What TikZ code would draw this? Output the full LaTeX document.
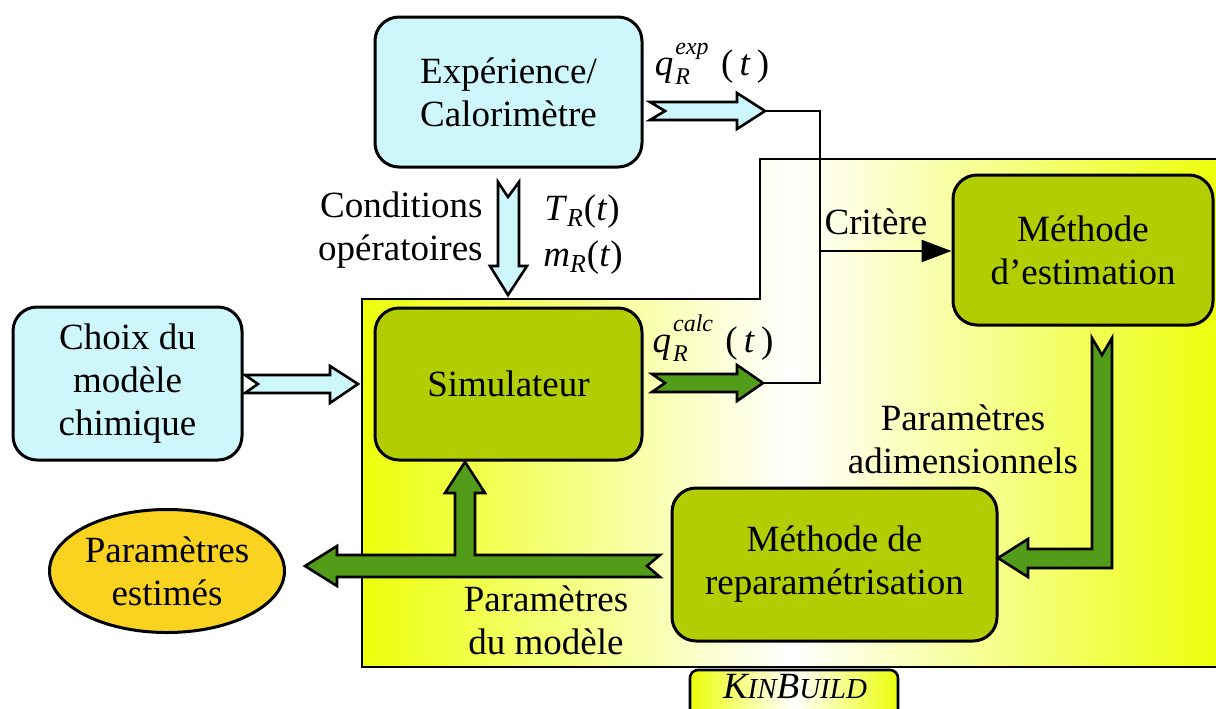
\documentclass[tikz,border=0pt]{standalone}
\usepackage{amsmath}
\usepackage{fontspec}
\setmainfont{LiberationSerif}[Extension=.ttf, UprightFont=*-Regular, ItalicFont=*-Italic, BoldFont=*-Bold, BoldItalicFont=*-BoldItalic]
\usetikzlibrary{shapes.geometric,arrows.meta}
\definecolor{cyanbox}{RGB}{205,247,250}
\definecolor{olivebox}{RGB}{178,205,2}
\definecolor{darkgr}{RGB}{82,156,26}
\definecolor{goldbox}{RGB}{250,210,32}
\definecolor{kyellow}{RGB}{236,255,10}
\newcommand\myfs{\fontsize{18.5}{21.5}\selectfont}
\newcommand\myss{\fontsize{12}{12}\selectfont\itshape}
\newcommand\qlab[1]{\textit{q}\kern1pt\makebox[0pt][l]{\raisebox{-0.55ex}{\myss R}}\raisebox{1.25ex}{\myss #1}\,\,(\,\textit{t}\,)}
\begin{document}
\begin{tikzpicture}[x=0.5pt,y=-0.5pt,
  boxbase/.style={draw, line width=1.5pt, rounded corners=12pt, align=center, font=\myfs, inner sep=0pt},
  cbox/.style={boxbase, fill=cyanbox},
  gbox/.style={boxbase, fill=olivebox},
  barrow/.style={draw, line width=1.3pt, line join=miter},
  conn/.style={draw, line width=1.2pt},
  lbl/.style={font=\myfs, inner sep=0pt, align=center}]
\useasboundingbox (0,0) rectangle (1216,708);
\fill[white] (0,0) rectangle (1216,708);

% KinBuild region
\draw[line width=1.3pt, left color=kyellow, right color=kyellow, middle color=white]
  (362,299) -- (760,299) -- (760,159) -- (1220,159) -- (1220,667) -- (362,667) -- cycle;
\draw[line width=1.3pt, rounded corners=4pt, left color=kyellow, right color=kyellow, middle color=white]
  (690,720) -- (690,670) -- (898,670) -- (898,720);
\node[lbl] (kin) at (795,687) {\itshape K{\fontsize{14.5}{16}\selectfont IN}B{\fontsize{14.5}{16}\selectfont UILD}};

% boxes
\node[cbox, minimum width=133.5pt, minimum height=75pt] (exp) at (508.5,92) {Expérience/\\Calorimètre};
\node[cbox, minimum width=114.5pt, minimum height=76.5pt] (choix) at (127.5,383.5) {Choix du\\modèle\\chimique};
\node[gbox, minimum width=133.5pt, minimum height=76pt] (sim) at (508.5,384) {Simulateur};
\node[gbox, minimum width=130pt, minimum height=75pt] (est) at (1083,250) {Méthode\\d’estimation};
\node[gbox, minimum width=162.5pt, minimum height=76.5pt] (rep) at (834.5,564.5) {Méthode de\\reparamétrisation};
\node[draw, ellipse, line width=1.5pt, fill=goldbox, minimum width=117.5pt, minimum height=61.5pt,
  inner sep=0pt, align=center, font=\myfs] (pe) at (167,571) {Paramètres\\estimés};

% block arrows
\draw[barrow, fill=cyanbox] (650,102) -- (737,102) -- (737,93) -- (765,111) -- (737,129) -- (737,120) -- (650,120) -- (665,111) -- cycle;
\draw[barrow, fill=darkgr] (652,374) -- (737,374) -- (737,365) -- (763,383) -- (737,401) -- (737,392) -- (652,392) -- (665,383) -- cycle;
\draw[barrow, fill=cyanbox] (245,375) -- (330,375) -- (330,366) -- (358,384) -- (330,403) -- (330,393) -- (245,393) -- (258,384) -- cycle;
\draw[barrow, fill=cyanbox] (498,182) -- (508,197) -- (519,182) -- (519,266) -- (527,266) -- (508,295) -- (490,266) -- (498,266) -- cycle;
\draw[barrow, fill=darkgr] (660,555) -- (475,555) -- (475,493) -- (485,493) -- (465,462) -- (445,493) -- (455,493) -- (455,555)
  -- (337,555) -- (337,546) -- (305,566) -- (337,586) -- (337,577) -- (660,577) -- (647,566) -- cycle;
\draw[barrow, fill=darkgr] (1092,338) -- (1102,355) -- (1112,338) -- (1112,568) -- (1028,568) -- (1028,577) -- (998,558)
  -- (1028,539) -- (1028,549) -- (1092,549) -- cycle;

% connectors
\coordinate (expTip) at (765,111);
\coordinate (calcTip) at (763,383);
\coordinate (jA) at (820,111);
\coordinate (jB) at (820,383);
\coordinate (jC) at (820,251);
\draw[conn] (expTip) -- (jA) -- (jB) -- (calcTip);
\draw[conn, -{Triangle[length=15pt,width=11pt]}] (jC) -- (est.west |- jC);

% labels
\node[lbl] (lqexp) at (712,64) {\qlab{exp}};
\node[lbl] (lqcalc) at (713,338) {\qlab{calc}};
\node[lbl] (lT) at (582,212) {\textit{T}$_{\textit{R}}$(\textit{t})};
\node[lbl] (lm) at (583,258) {\textit{m}$_{\textit{R}}$(\textit{t})};
\node[lbl, align=right, anchor=east] (lcond) at (483,230) {Conditions\\opératoires};
\node[lbl] (lcrit) at (876,222) {Critère};
\node[lbl] (ladim) at (963,439) {Paramètres\\adimensionnels};
\node[lbl] (lmod) at (546,620) {Paramètres\\du modèle};
\end{tikzpicture}
\end{document}
